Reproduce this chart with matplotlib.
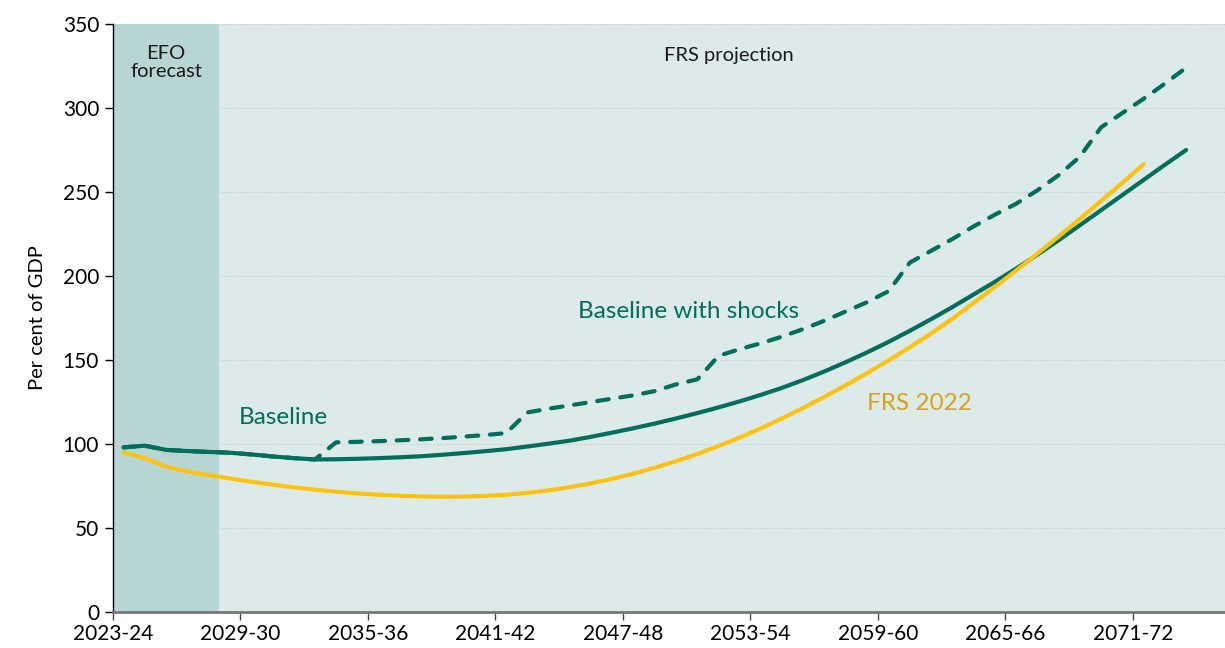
import numpy as np
import matplotlib.pyplot as plt

# financial years shown on the x axis (one category per year)
start_years = np.arange(2023, 2074)
years = [f"{y}-{str(y + 1)[-2:]}" for y in start_years]
tick_labels = ["2023-24", "2029-30", "2035-36", "2041-42", "2047-48",
               "2053-54", "2059-60", "2065-66", "2071-72"]

# per cent of GDP
baseline = [98, 99, 96.5, 95.8, 95.3, 94.8, 93.8, 92.6, 91.6, 90.8,
            90.9, 91.2, 91.6, 92.1, 92.7, 93.6, 94.6, 95.7, 96.9, 98.5,
            100.2, 102, 104.3, 106.8, 109.4, 112.2, 115.2, 118.4, 121.8, 125.4,
            129.3, 133.5, 138.2, 143.3, 148.8, 154.6, 160.8, 167.4, 174.3, 181.5,
            189, 196.5, 204.4, 212.7, 221.3, 230.2, 239.2, 248.2, 257.2, 266.2, 275]
shocks = [98, 99, 96.5, 95.8, 95.3, 94.8, 93.8, 92.6, 91.6, 90.8,
          101, 101.3, 101.7, 102.2, 102.8, 103.5, 104.4, 105.3, 106.5, 118.8,
          121, 123, 125, 127, 129, 131.5, 135.5, 138.5, 152.5, 156.5,
          160, 164, 168.5, 173.5, 179, 184.5, 191, 208, 215, 222,
          229.5, 236.5, 243, 251, 260, 271, 288.5, 297, 305.5, 314.5, 324]
frs2022 = [95, 91.5, 86.5, 83.5, 81.5, 79.5, 77.5, 75.8, 74.2, 72.8,
           71.6, 70.6, 69.8, 69.2, 68.8, 68.6, 68.7, 69.1, 69.8, 70.9,
           72.4, 74.3, 76.6, 79.3, 82.4, 85.9, 89.8, 94.1, 98.8, 103.9,
           109.4, 115.3, 121.6, 128.2, 135.1, 142.3, 149.8, 157.6, 165.8, 174.5,
           184, 193.5, 203.3, 213.3, 223.5, 234, 244.7, 255.5, 266.5]

efo_years = 5  # first five years are the EFO forecast

green = "#006e5b"
yellow = "#ffc20e"
gold = "#d9a21b"

plt.rcParams['font.family'] = ['Lato', 'DejaVu Sans']

fig = plt.figure(figsize=(12.25, 6.48), dpi=100)
ax = fig.add_axes([113 / 1225, 36 / 648, 1 - 113 / 1225, 588 / 648])
ax.set_facecolor("#dcebe9")

# points sit in the middle of each year's category
x_all = np.arange(len(years)) + 0.5
ax.axvspan(0, efo_years, color="#b7d6d3", lw=0, zorder=0)

ax.plot(x_all, shocks, color=green, lw=3, dashes=(2.8, 2.8),
        dash_capstyle='round', solid_capstyle='round', zorder=3)
ax.plot(x_all, baseline, color=green, lw=3, solid_capstyle='round', zorder=4)
ax.plot(x_all[:len(frs2022)], frs2022, color=yellow, lw=3,
        solid_capstyle='round', zorder=4)

ax.text(efo_years / 2, 327, "EFO\nforecast", ha='center', va='center',
        fontsize=14.5, color="#1a1a1a", linespacing=1.05)
ax.text(29, 331, "FRS projection", ha='center', va='center',
        fontsize=14.5, color="#1a1a1a")
ax.text(5.9, 116, "Baseline", ha='left', va='center', fontsize=17.5, color=green)
ax.text(21.9, 179, "Baseline with shocks", ha='left', va='center',
        fontsize=17.5, color=green)
ax.text(35.5, 124, "FRS 2022", ha='left', va='center', fontsize=17.5, color=gold)

ax.set_xlim(0, 52.33)
ax.set_ylim(0, 350)
ax.set_xticks(np.arange(0, 49, 6))
ax.set_xticklabels(tick_labels)
ax.set_yticks(np.arange(0, 351, 50))
ax.yaxis.grid(True, color="#c9d3d2", lw=0.8, ls=(0, (1.5, 1.5)))
ax.set_axisbelow(True)

for side in ['top', 'right']:
    ax.spines[side].set_visible(False)
ax.spines['left'].set_color("#000000")
ax.spines['left'].set_linewidth(1)
ax.spines['bottom'].set_color("#777777")
ax.spines['bottom'].set_linewidth(2)

ax.tick_params(axis='x', direction='out', length=6, width=1, color="#444444",
               labelsize=15, pad=3)
ax.tick_params(axis='y', direction='out', length=6, width=1, color="#000000",
               labelsize=15, pad=4)
ax.set_ylabel("Per cent of GDP", fontsize=14.5, labelpad=12)

fig.savefig("out.png", dpi=100)
